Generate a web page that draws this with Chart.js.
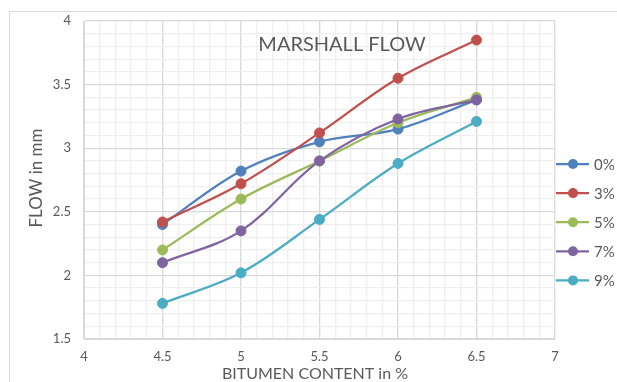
<!DOCTYPE html>
<html>
<head>
<meta charset="utf-8">
<script src="https://cdn.jsdelivr.net/npm/chart.js@4.4.0/dist/chart.umd.min.js"></script>
<style>
html, body { margin: 0; padding: 0; background: #fff; }
#wrap { width: 617px; height: 382px; position: relative; }
</style>
</head>
<body>
<div id="wrap"><canvas id="flowChart"></canvas></div>
<script>
// bitumen content in % (x axis)
var bitumen = [4.5, 5, 5.5, 6, 6.5];

// flow values per series
var seriesLabels = ['0%', '3%', '5%', '7%', '9%'];
var flow0 = [2.40, 2.82, 3.05, 3.15, 3.38];
var flow3 = [2.42, 2.72, 3.12, 3.55, 3.85];
var flow5 = [2.20, 2.60, 2.90, 3.20, 3.40];
var flow7 = [2.10, 2.35, 2.90, 3.23, 3.38];
var flow9 = [1.78, 2.02, 2.44, 2.88, 3.21];
var seriesColors = ['#4F81BD', '#C0504D', '#9BBB59', '#8064A2', '#4BACC6'];

var allFlow = [flow0, flow3, flow5, flow7, flow9];
var textColor = '#595959';
var fontName = 'Lato, "Open Sans", sans-serif';

// major tick tiap 0.5, minor tiap 0.1
function isMajor(v) {
    return Math.abs(v * 2 - Math.round(v * 2)) < 1e-6;
}
function tickLabel(v) {
    return isMajor(v) ? String(Number(v.toFixed(1))) : '';
}
function gridColor(ctx) {
    if (!ctx.tick) return '#d9d9d9';
    return isMajor(ctx.tick.value) ? '#d9d9d9' : '#efefef';
}

var datasets = allFlow.map(function(values, i) {
    return {
        label: seriesLabels[i],
        data: values.map(function(v, j) { return { x: bitumen[j], y: v }; }),
        borderColor: seriesColors[i],
        backgroundColor: seriesColors[i],
        pointBackgroundColor: seriesColors[i],
        pointBorderColor: seriesColors[i],
        borderWidth: 2.25,
        pointRadius: 5,
        pointBorderWidth: 1,
        tension: 0.35,
        fill: false,
        order: allFlow.length - i
    };
});

// judul, judul sumbu, bingkai dan legenda digambar sendiri
var decorPlugin = {
    id: 'decor',
    beforeDraw: function(chart) {
        var ctx = chart.ctx;
        ctx.save();
        ctx.strokeStyle = '#d9d9d9';
        ctx.lineWidth = 1;
        ctx.strokeRect(9.5, 11.5, 700, 500);
        ctx.restore();
    },
    afterDraw: function(chart) {
        var ctx = chart.ctx;
        ctx.save();
        ctx.fillStyle = textColor;
        ctx.textAlign = 'center';
        ctx.textBaseline = 'middle';
        ctx.font = '20px ' + fontName;
        ctx.fillText('MARSHALL FLOW', 342, 45);

        // judul sumbu
        ctx.font = '16px ' + fontName;
        ctx.fillText('BITUMEN CONTENT in %', 315, 374);
        ctx.save();
        ctx.translate(37, 178);
        ctx.rotate(-Math.PI / 2);
        ctx.font = '17px ' + fontName;
        ctx.fillText('FLOW in mm', 0, 0);
        ctx.restore();

        // legenda
        ctx.font = '15px ' + fontName;
        ctx.textAlign = 'left';
        chart.data.datasets.forEach(function(ds, i) {
            var y = 164 + i * 29.1;
            ctx.strokeStyle = ds.borderColor;
            ctx.lineWidth = 2.25;
            ctx.beginPath();
            ctx.moveTo(556, y);
            ctx.lineTo(589, y);
            ctx.stroke();
            ctx.fillStyle = ds.borderColor;
            ctx.beginPath();
            ctx.arc(573, y, 5, 0, Math.PI * 2);
            ctx.fill();
            ctx.fillStyle = textColor;
            ctx.fillText(ds.label, 594, y + 1);
        });
        ctx.restore();
    }
};

new Chart(document.getElementById('flowChart'), {
    type: 'line',
    data: { datasets: datasets },
    options: {
        responsive: true,
        maintainAspectRatio: false,
        animation: false,
        layout: { padding: { left: 0, top: 21, right: 62, bottom: 0 } },
        plugins: {
            legend: { display: false },
            tooltip: { enabled: false }
        },
        scales: {
            x: {
                type: 'linear',
                min: 4,
                max: 7,
                afterFit: function(scale) { scale.height = 43; },
                ticks: {
                    stepSize: 0.1,
                    autoSkip: false,
                    maxRotation: 0,
                    padding: 10,
                    color: textColor,
                    font: { family: fontName, size: 13 },
                    callback: tickLabel
                },
                grid: { color: gridColor, drawTicks: false, lineWidth: 1.3 },
                border: { color: '#d9d9d9' }
            },
            y: {
                type: 'linear',
                min: 1.5,
                max: 4,
                afterFit: function(scale) { scale.width = 84; },
                ticks: {
                    stepSize: 0.1,
                    autoSkip: false,
                    padding: 13,
                    color: textColor,
                    font: { family: fontName, size: 13 },
                    callback: tickLabel
                },
                grid: { color: gridColor, drawTicks: false, lineWidth: 1.3 },
                border: { color: '#d9d9d9' }
            }
        }
    },
    plugins: [decorPlugin]
});
</script>
</body>
</html>
